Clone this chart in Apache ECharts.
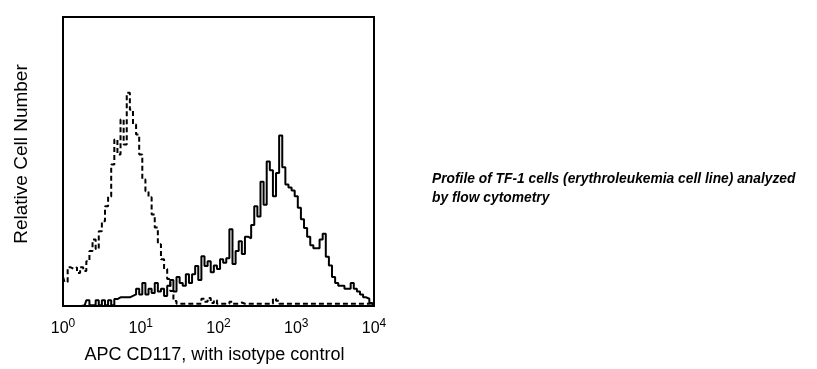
<!DOCTYPE html>
<html>
<head>
<meta charset="utf-8">
<script src="https://cdn.jsdelivr.net/npm/echarts@6/dist/echarts.min.js"></script>
<style>
html,body{margin:0;padding:0;background:#fff;}
#main{width:817px;height:369px;}
</style>
</head>
<body>
<div id="main"></div>
<script>
// Bins: log10 intensity from 0 to 4 in steps of 0.04 (101 channels)
var binStart = 0;
var binStep = 0.04;

// Isotype control (dashed), relative cell number per bin
var isotypeCounts = [
  10, 8.3, 13.4, 12.8, 13.4, 11.4, 13.4, 12.1, 15.5, 19,
  23, 19.7, 25.9, 29.3, 34.5, 37.9, 49, 57.6, 52.4, 64.5,
  55.9, 73.8, 67.9, 62.8, 59.3, 52.4, 43.8, 39.7, 37.6, 31.7,
  27.2, 21.4, 16.2, 12.8, 9.3, 5.2, 1.7, 0.8, 0.8, 0.8,
  0.8, 0.8, 0.8, 0.8, 0.8, 2.5, 1.5, 2.8, 1, 2,
  0.8, 0.8, 0.8, 0.8, 1.5, 0.8, 0.8, 1.2, 0.8, 0.8,
  0.8, 0.8, 0.8, 0.8, 0.8, 0.8, 0.8, 0.8, 2.5, 1.8,
  0.8, 0.8, 0.8, 0.8, 0.8, 0.8, 0.8, 0.8, 0.8, 0.8,
  0.8, 0.8, 0.8, 0.8, 0.8, 0.8, 0.8, 0.8, 0.8, 0.8,
  0.8, 0.8, 0.8, 0.8, 0.8, 0.8, 0.8, 0.8, 0.8, 1, 0
];

// APC CD117 (solid), relative cell number per bin
var cd117Counts = [
  0, 0, 0, 0, 0, 0, 0, 0.3, 2, 0.3,
  0.3, 2, 0.3, 2, 0.3, 2, 0.3, 2.4, 3, 3,
  3, 3, 3.5, 4, 6, 4, 8, 4, 6, 4.5,
  8, 5, 6, 3.5, 7, 9, 5, 10, 8, 7,
  11, 8, 11, 13.8, 9, 17.2, 13.8, 15.5, 11.7, 14,
  12.8, 16.2, 15, 16.5, 26.6, 14.5, 19, 22.4, 18, 24,
  23.4, 28, 34.5, 31, 43, 35, 50, 47, 38, 46,
  59, 48, 42, 41, 40, 38, 34, 30, 27, 24,
  21, 20, 20, 23, 25, 17, 14, 10, 8, 7,
  7, 6, 6, 8, 6, 5, 4, 3, 2.5, 1, 0
];

function toPoints(counts) {
  return counts.map(function (c, i) {
    return [Math.pow(10, binStart + i * binStep), c];
  });
}

var chart = echarts.init(document.getElementById('main'), null, {renderer: 'canvas'});
var font = 'Liberation Sans, Arial, sans-serif';

chart.setOption({
  animation: false,
  backgroundColor: '#fff',
  grid: {
    left: 63, right: 443, top: 17, bottom: 62,
    show: true, borderColor: '#000', borderWidth: 2, backgroundColor: 'transparent'
  },
  xAxis: {
    type: 'log',
    logBase: 10,
    min: 1,
    max: 10000,
    axisLine: {show: false},
    axisTick: {show: false},
    splitLine: {show: false},
    minorTick: {show: false},
    axisLabel: {
      margin: 12,
      color: '#000',
      formatter: function (v) {
        var e = Math.round(Math.log10(v));
        return '{b|10}{s|' + e + '}';
      },
      rich: {
        b: {fontSize: 16, fontFamily: font, color: '#000'},
        s: {fontSize: 12, fontFamily: font, color: '#000', padding: [0, 0, 10, 0]}
      }
    },
    name: 'APC CD117, with isotype control',
    nameLocation: 'middle',
    nameGap: 40,
    nameTextStyle: {fontSize: 18, fontFamily: font, color: '#000', padding: [0, 8, 0, 0]}
  },
  yAxis: {
    type: 'value',
    min: 0,
    max: 100,
    axisLine: {show: false},
    axisTick: {show: false},
    axisLabel: {show: false},
    splitLine: {show: false}
  },
  series: [
    {
      name: 'Isotype control',
      type: 'line',
      step: 'middle',
      symbol: 'none',
      data: toPoints(isotypeCounts),
      lineStyle: {color: '#000', width: 2, type: [5, 3]}
    },
    {
      name: 'APC CD117',
      type: 'line',
      step: 'middle',
      symbol: 'none',
      data: toPoints(cd117Counts),
      lineStyle: {color: '#000', width: 2}
    }
  ],
  graphic: [
    {
      type: 'text',
      x: 22,
      y: 154,
      rotation: Math.PI / 2,
      style: {
        text: 'Relative Cell Number',
        font: '19px Liberation Sans, Arial, sans-serif',
        fill: '#000',
        align: 'center',
        verticalAlign: 'middle'
      }
    },
    {
      type: 'text',
      left: 432,
      top: 170,
      style: {
        text: 'Profile of TF-1 cells (erythroleukemia cell line) analyzed\nby flow cytometry',
        font: 'italic bold 13.8px Liberation Sans, Arial, sans-serif',
        fill: '#000',
        lineHeight: 19
      }
    }
  ]
});
</script>
</body>
</html>
